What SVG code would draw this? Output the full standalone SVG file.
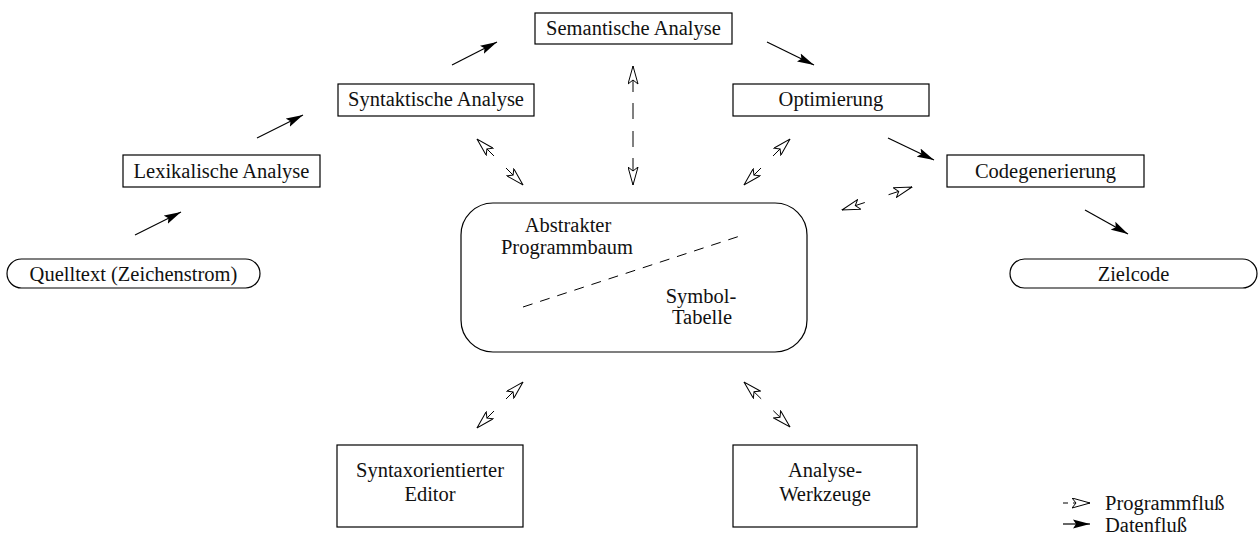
<svg xmlns="http://www.w3.org/2000/svg" width="1260" height="539" viewBox="0 0 1260 539">
<style>
  .box { fill: none; stroke: #000; stroke-width: 1.2; }
  .t { font-family: "Liberation Serif", "Times New Roman", serif; font-size: 20.5px; fill: #111; }
  .m { text-anchor: middle; }
  .data { stroke: #000; stroke-width: 1.2; fill: none; marker-end: url(#solid); }
  .prog { stroke: #000; stroke-width: 1; fill: none; marker-start: url(#open); marker-end: url(#open); }
</style>
<defs>
  <marker id="open" viewBox="0 0 19 11" refX="18.5" refY="5.5" markerWidth="19" markerHeight="11" markerUnits="userSpaceOnUse" orient="auto-start-reverse">
    <path d="M0.5,0.5 L18.5,5.5 L0.5,10.5 L4.5,5.5 Z" fill="#fff" stroke="#000" stroke-width="1"/>
  </marker>
  <marker id="solid" viewBox="0 0 17 10" refX="17" refY="5" markerWidth="17" markerHeight="10" markerUnits="userSpaceOnUse" orient="auto">
    <path d="M0,0.5 L17,5 L0,9.5 L3,5 Z" fill="#000" stroke="none"/>
  </marker>
</defs>
<rect width="1260" height="539" fill="#fff"/>

<g id="semantische">
  <rect class="box" x="535" y="13" width="197" height="31"/>
  <text class="t m" x="633.5" y="35">Semantische Analyse</text>
</g>
<g id="syntaktische">
  <rect class="box" x="338" y="84" width="196" height="32"/>
  <text class="t m" x="436" y="106">Syntaktische Analyse</text>
</g>
<g id="optimierung">
  <rect class="box" x="733" y="84" width="196" height="32"/>
  <text class="t m" x="831" y="106">Optimierung</text>
</g>
<g id="lexikalische">
  <rect class="box" x="123" y="155" width="197" height="32"/>
  <text class="t m" x="221.5" y="178">Lexikalische Analyse</text>
</g>
<g id="codegenerierung">
  <rect class="box" x="947" y="155" width="197" height="32"/>
  <text class="t m" x="1045.5" y="178">Codegenerierung</text>
</g>
<g id="quelltext">
  <rect class="box" x="7" y="259" width="253" height="29" rx="14.5" ry="14.5"/>
  <text class="t m" x="133.5" y="281">Quelltext (Zeichenstrom)</text>
</g>
<g id="zielcode">
  <rect class="box" x="1010" y="259" width="247" height="29" rx="14.5" ry="14.5"/>
  <text class="t m" x="1133.5" y="281">Zielcode</text>
</g>
<g id="zentrum">
  <rect class="box" x="461" y="203" width="346" height="149" rx="32" ry="32"/>
  <text class="t m" x="568" y="232">Abstrakter</text>
  <text class="t m" x="567" y="254">Programmbaum</text>
  <text class="t m" x="701" y="303">Symbol-</text>
  <text class="t m" x="702" y="324">Tabelle</text>
  <line x1="523" y1="307" x2="743" y2="235" stroke="#000" stroke-width="1" stroke-dasharray="10 8"/>
</g>
<g id="editor">
  <rect class="box" x="337" y="445" width="186" height="82"/>
  <text class="t m" x="430" y="477">Syntaxorientierter</text>
  <text class="t m" x="430" y="501">Editor</text>
</g>
<g id="werkzeuge">
  <rect class="box" x="733" y="445" width="184" height="82"/>
  <text class="t m" x="825" y="477">Analyse-</text>
  <text class="t m" x="825" y="501">Werkzeuge</text>
</g>

<g id="connectors">
  <line class="data" x1="135" y1="235" x2="181" y2="212"/>
  <line class="data" x1="257" y1="138" x2="303" y2="115"/>
  <line class="data" x1="452" y1="65" x2="497" y2="42"/>
  <line class="data" x1="767" y1="42" x2="814" y2="65"/>
  <line class="data" x1="888" y1="138" x2="934" y2="160"/>
  <line class="data" x1="1085" y1="210" x2="1128" y2="234"/>

  <line class="prog" x1="477" y1="139" x2="523" y2="185" stroke-dasharray="24 17 24"/>
  <line class="prog" x1="633" y1="66" x2="633" y2="185" stroke-dasharray="26 11 16 12 16 11 27"/>
  <line class="prog" x1="790" y1="139" x2="744" y2="185" stroke-dasharray="24 17 24"/>
  <line class="prog" x1="842" y1="210" x2="912" y2="187" stroke-dasharray="24 25 25"/>
  <line class="prog" x1="523" y1="382" x2="477" y2="428" stroke-dasharray="24 17 24"/>
  <line class="prog" x1="744" y1="382" x2="790" y2="427" stroke-dasharray="24 17 24"/>
</g>

<g id="legende">
  <line x1="1063" y1="503" x2="1090" y2="503" stroke="#000" stroke-width="1" stroke-dasharray="5 5 100" marker-end="url(#open)"/>
  <text class="t" x="1105" y="510">Programmfluß</text>
  <line class="data" x1="1063" y1="524" x2="1090" y2="524"/>
  <text class="t" x="1105" y="532">Datenfluß</text>
</g>
</svg>
